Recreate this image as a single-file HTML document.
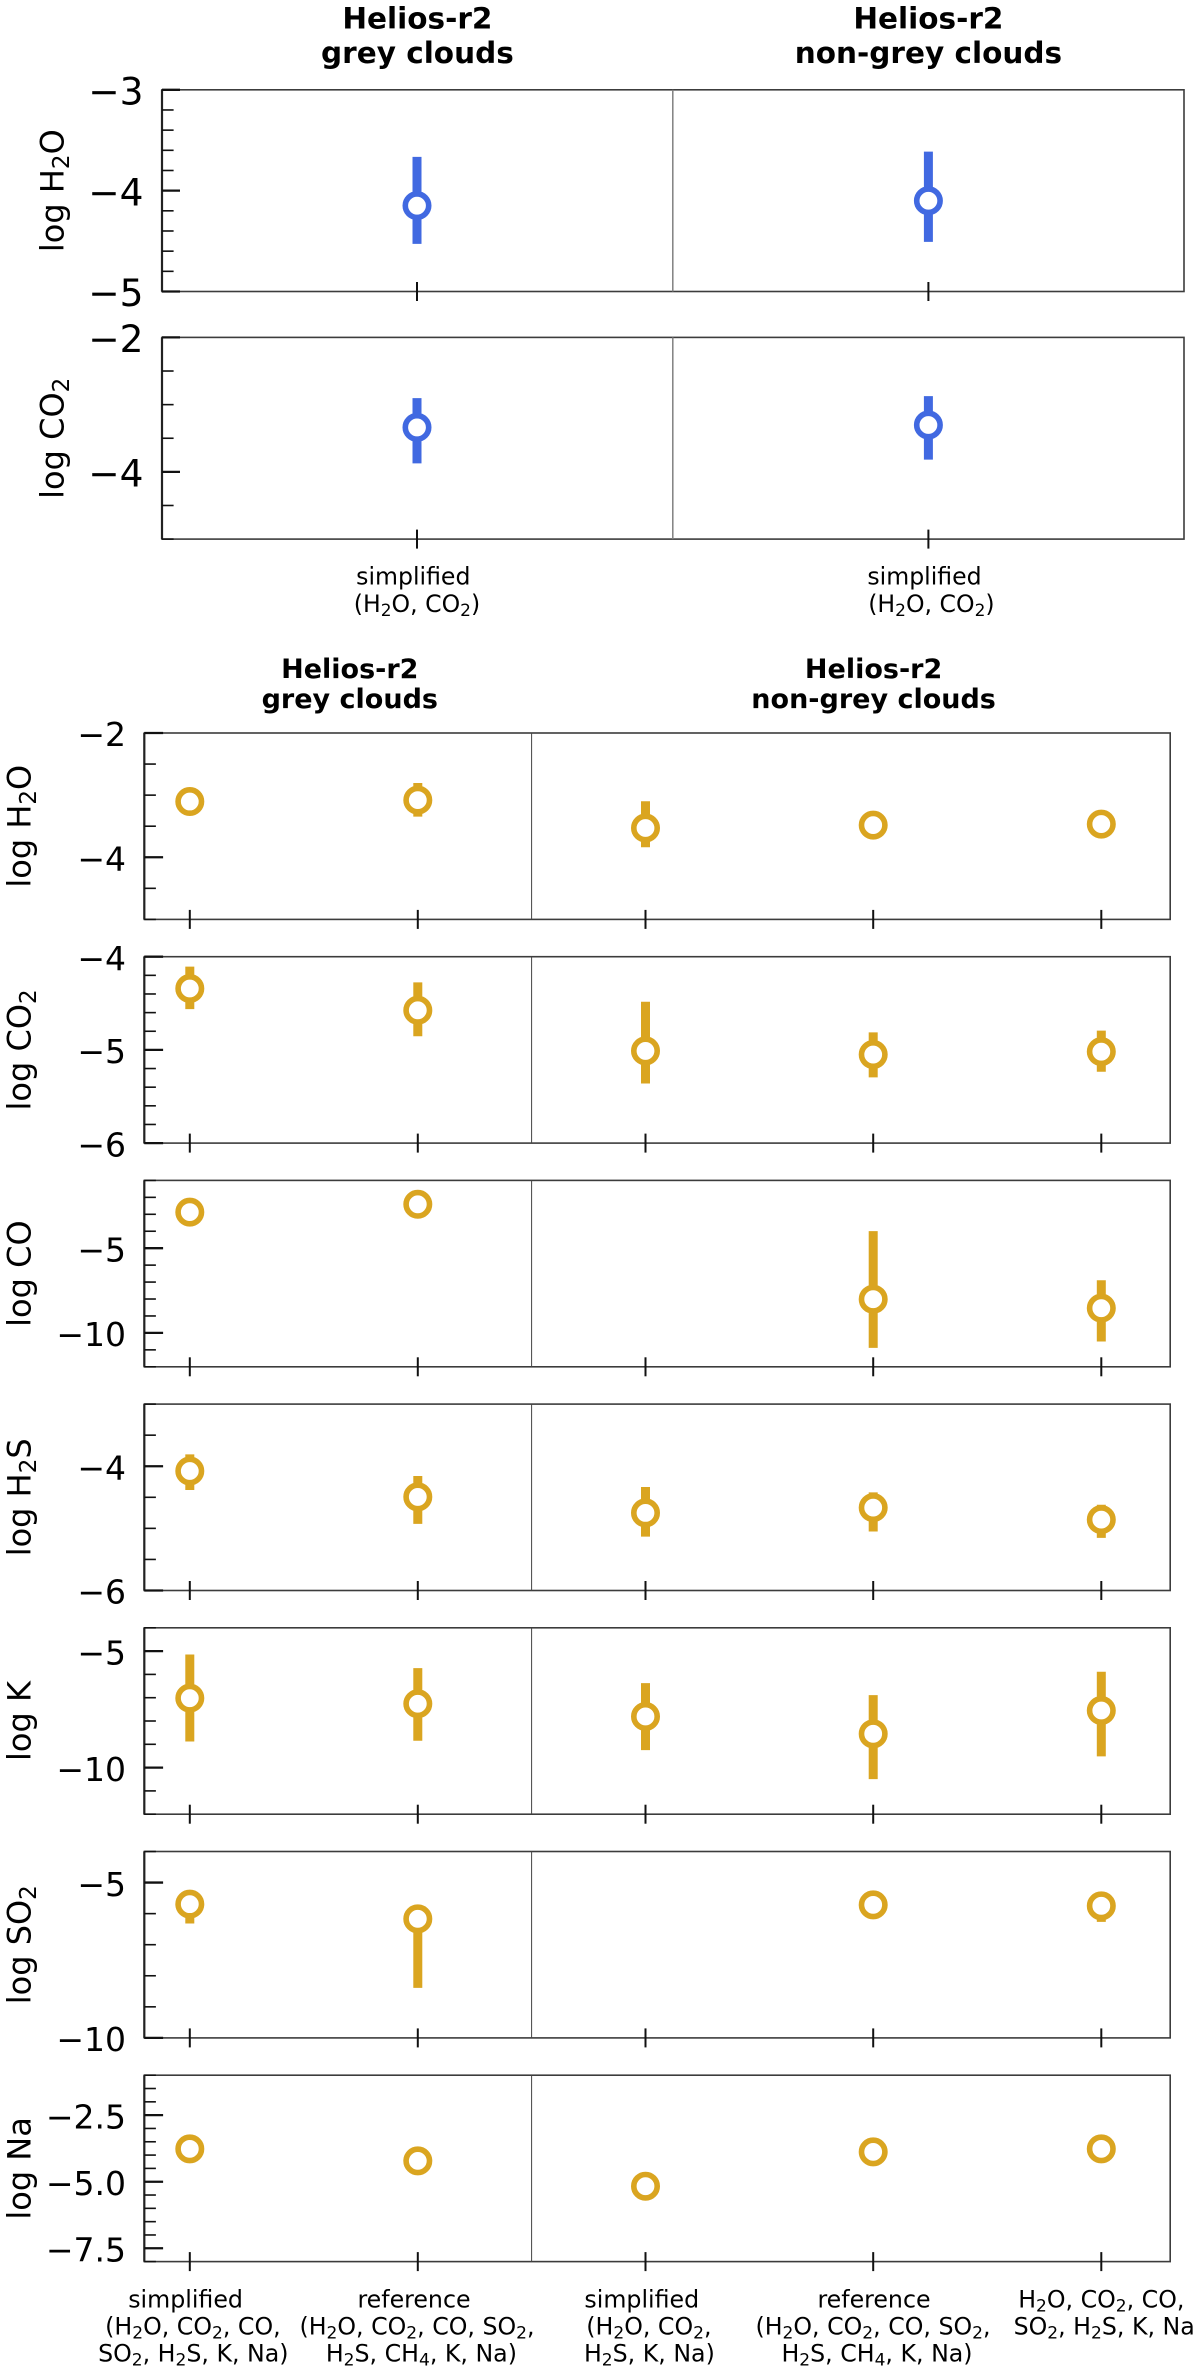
<!DOCTYPE html>
<html lang="en">
<head>
<meta charset="utf-8">
<title>Helios-r2 retrieved abundances</title>
<style>
  html, body { margin: 0; padding: 0; background: #fff; }
  svg { display: block; }
  text { font-family: "DejaVu Sans", "Liberation Sans", sans-serif; fill: #000; }
</style>
</head>
<body>
<svg id="figure" xmlns="http://www.w3.org/2000/svg" width="1200" height="2370" viewBox="0 0 1200 2370"></svg>
<script>
// ---------- data: upper figure (simplified H2O / CO2 retrievals) ----------
const upperTitles = [['Helios-r2', 'grey clouds'], ['Helios-r2', 'non-grey clouds']];
const upperCategories = ['simplified|(H_2O, CO_2)', 'simplified|(H_2O, CO_2)'];

const upperH2oValues = [-4.149, -4.10];
const upperH2oHigh = [-3.665, -3.613];
const upperH2oLow = [-4.528, -4.508];

const upperCo2Values = [-3.339, -3.303];
const upperCo2High = [-2.903, -2.873];
const upperCo2Low = [-3.873, -3.818];

// ---------- data: lower figure (extended retrievals) ----------
const lowerTitles = [['Helios-r2', 'grey clouds'], ['Helios-r2', 'non-grey clouds']];
const lowerCategories = [
  'simplified|(H_2O, CO_2, CO,|SO_2, H_2S, K, Na)',
  'reference|(H_2O, CO_2, CO, SO_2,|H_2S, CH_4, K, Na)',
  'simplified|(H_2O, CO_2,|H_2S, K, Na)',
  'reference|(H_2O, CO_2, CO, SO_2,|H_2S, CH_4, K, Na)',
  'H_2O, CO_2, CO,|SO_2, H_2S, K, Na'
];

const h2oValues = [-3.103, -3.08, -3.529, -3.483, -3.466];
const h2oHigh = [-2.93, -2.805, -3.098, -3.30, -3.28];
const h2oLow = [-3.25, -3.345, -3.839, -3.70, -3.65];

const co2Values = [-4.341, -4.575, -5.011, -5.05, -5.019];
const co2High = [-4.107, -4.276, -4.483, -4.812, -4.793];
const co2Low = [-4.563, -4.854, -5.36, -5.295, -5.234];

const coValues = [-2.87, -2.41, null, -8.01, -8.54];
const coHigh = [-2.4, -1.95, null, -3.99, -6.89];
const coLow = [-3.3, -2.85, null, -10.88, -10.51];

const h2sValues = [-4.077, -4.494, -4.751, -4.666, -4.859];
const h2sHigh = [-3.809, -4.157, -4.334, -4.42, -4.62];
const h2sLow = [-4.382, -4.928, -5.132, -5.051, -5.153];

const kValues = [-7.02, -7.26, -7.805, -8.55, -7.55];
const kHigh = [-5.144, -5.731, -6.375, -6.89, -5.888];
const kLow = [-8.878, -8.85, -9.25, -10.495, -9.52];

const so2Values = [-5.695, -6.167, null, -5.717, -5.749];
const so2High = [-5.3, -5.75, null, -5.35, -5.4];
const so2Low = [-6.318, -8.388, null, -6.1, -6.264];

const naValues = [-3.766, -4.217, -5.168, -3.879, -3.766];
const naHigh = [-3.5, -3.95, -4.9, -3.6, -3.5];
const naLow = [-4.0, -4.45, -5.4, -4.1, -4.0];

// ---------- axis ranges and ticks ----------
const h2oUpperRange = [-5, -3];
const h2oUpperMajor = [-3, -4, -5];
const h2oUpperLabels = ['\u22123', '\u22124', '\u22125'];
const h2oUpperMinorStep = 0.2;

const co2UpperRange = [-5, -2];
const co2UpperMajor = [-2, -4];
const co2UpperLabels = ['\u22122', '\u22124'];
const co2UpperMinorStep = 0.5;

const h2oRange = [-5, -2];
const h2oMajor = [-2, -4];
const h2oLabels = ['\u22122', '\u22124'];
const h2oMinorStep = 0.5;

const co2Range = [-6, -4];
const co2Major = [-4, -5, -6];
const co2Labels = ['\u22124', '\u22125', '\u22126'];
const co2MinorStep = 0.2;

const coRange = [-12, -1];
const coMajor = [-5, -10];
const coLabels = ['\u22125', '\u221210'];
const coMinorStep = 1;

const h2sRange = [-6, -3];
const h2sMajor = [-4, -6];
const h2sLabels = ['\u22124', '\u22126'];
const h2sMinorStep = 0.5;

const kRange = [-12, -4];
const kMajor = [-5, -10];
const kLabels = ['\u22125', '\u221210'];
const kMinorStep = 1;

const so2Range = [-10, -4];
const so2Major = [-5, -10];
const so2Labels = ['\u22125', '\u221210'];
const so2MinorStep = 1;

const naRange = [-8, -1];
const naMajor = [-2.5, -5, -7.5];
const naLabels = ['\u22122.5', '\u22125.0', '\u22127.5'];
const naMinorStep = 0.5;

// ---------- drawing ----------
const SVG_NS = 'http://www.w3.org/2000/svg';
const figure = document.getElementById('figure');
const BLUE = '#4169e1';
const GOLD = '#daa520';

function make(tag, parent, attrs) {
  const el = document.createElementNS(SVG_NS, tag);
  for (const key in attrs) el.setAttribute(key, attrs[key]);
  parent.appendChild(el);
  return el;
}

function richText(parent, str, x, y, size, opts) {
  const o = opts || {};
  const el = make('text', parent, { x: x, y: y, 'font-size': size, 'text-anchor': o.anchor || 'middle' });
  if (o.weight) el.setAttribute('font-weight', o.weight);
  if (o.rotate) el.setAttribute('transform', 'rotate(-90 ' + x + ' ' + y + ')');
  const parts = str.split(/_(\d)/);
  const drop = size * 0.17;
  let pending = 0;
  parts.forEach(function (part, i) {
    if (!part) return;
    const t = make('tspan', el, {});
    t.textContent = part;
    if (i % 2 === 1) {
      t.setAttribute('font-size', size * 0.72);
      t.setAttribute('dy', drop);
      pending = -drop;
    } else if (pending) {
      t.setAttribute('dy', pending);
      pending = 0;
    }
  });
  return el;
}

function drawPanel(cfg) {
  const g = make('g', figure, {});
  
  

  const yScale = function (v) {
    return cfg.top + (cfg.range[1] - v) / (cfg.range[1] - cfg.range[0]) * cfg.height;
  };
  const bottom = cfg.top + cfg.height;

  const frame = make('rect', g, {
    x: cfg.left, y: cfg.top, width: cfg.right - cfg.left, height: cfg.height,
    fill: '#fff', stroke: '#3c3c3c', 'stroke-width': 1.6
  });
  
  

  const spine = make('line', g, {
    x1: cfg.left, x2: cfg.left, y1: cfg.top, y2: bottom,
    stroke: '#222', 'stroke-width': 2.2
  });
  
  

  const divider = make('line', g, {
    x1: cfg.divider, x2: cfg.divider, y1: cfg.top, y2: bottom,
    stroke: cfg.dividerColor, 'stroke-width': cfg.dividerWidth
  });
  
  

  // minor y ticks
  const n = Math.round((cfg.range[1] - cfg.range[0]) / cfg.minorStep);
  for (let i = 0; i <= n; i++) {
    const v = cfg.range[0] + i * cfg.minorStep;
    if (cfg.major.some(function (m) { return Math.abs(m - v) < 1e-6; })) continue;
    const minor = make('line', g, {
      x1: cfg.left, x2: cfg.left + 11.6, y1: yScale(v), y2: yScale(v),
      stroke: '#111', 'stroke-width': 1.6
    });
    
    
  }

  // major y ticks and labels
  cfg.major.forEach(function (v, i) {
    const y = yScale(v);
    const tick = make('line', g, {
      x1: cfg.left, x2: cfg.left + cfg.majorLen, y1: y, y2: y,
      stroke: '#111', 'stroke-width': 2.3
    });
    
    
    const label = richText(g, cfg.tickLabels[i], cfg.labelRight, y + cfg.labelDrop, cfg.tickSize, { anchor: 'end' });
    
    
  });

  const title = richText(g, cfg.yTitle, cfg.titleX, cfg.top + cfg.height / 2, cfg.titleSize, { rotate: true });
  
  

  // x ticks, error bars, markers
  cfg.xs.forEach(function (x, i) {
    const xt = make('line', g, {
      x1: x, x2: x, y1: bottom - 9.5, y2: bottom + 9.5,
      stroke: '#111', 'stroke-width': 2
    });
    
    

    if (cfg.values[i] === null) return;

    const bar = make('line', g, {
      x1: x, x2: x, y1: yScale(cfg.high[i]), y2: yScale(cfg.low[i]),
      stroke: cfg.color, 'stroke-width': 9
    });
    
    

    const point = make('circle', g, {
      cx: x, cy: yScale(cfg.values[i]), r: 11.7,
      fill: '#fff', stroke: cfg.color, 'stroke-width': 5.6
    });
    
    
  });
}

function drawHeading(lines, cx, y1, y2, size) {
  const a = richText(figure, lines[0], cx, y1, size, { weight: 'bold' });
  
  
  const b = richText(figure, lines[1], cx, y2, size, { weight: 'bold' });
  
  
}

function drawCategory(label, centres, baselines, size) {
  label.split('|').forEach(function (line, i) {
    const t = richText(figure, line, centres[i], baselines[i], size);
    
    
  });
}

// ---------- layout of the upper figure ----------
const upperXs = [417, 928.4];
const upperBase = {
  left: 162, right: 1184, divider: 672.8, height: 201.7, xs: upperXs, color: BLUE,
  dividerColor: '#808080', dividerWidth: 1.5, majorLen: 18, labelRight: 143.5,
  labelDrop: 14.6, tickSize: 37.5, titleX: 63.5, titleSize: 32
};

drawPanel(Object.assign({}, upperBase, {
  name: 'panel-upper-log-h2o', top: 89.8, yTitle: 'log H_2O', range: h2oUpperRange,
  major: h2oUpperMajor, tickLabels: h2oUpperLabels, minorStep: h2oUpperMinorStep,
  values: upperH2oValues, high: upperH2oHigh, low: upperH2oLow
}));
drawPanel(Object.assign({}, upperBase, {
  name: 'panel-upper-log-co2', top: 337.4, yTitle: 'log CO_2', range: co2UpperRange,
  major: co2UpperMajor, tickLabels: co2UpperLabels, minorStep: co2UpperMinorStep,
  values: upperCo2Values, high: upperCo2High, low: upperCo2Low
}));

drawHeading(upperTitles[0], 417.4, 28.6, 63, 29.5);
drawHeading(upperTitles[1], 928.4, 28.6, 63, 29.5);
drawCategory(upperCategories[0], [413.3, 417], [584.5, 612], 23.6);
drawCategory(upperCategories[1], [924.5, 931.4], [584.5, 612], 23.6);

// ---------- layout of the lower figure ----------
const lowerXs = [189.8, 417.8, 645.5, 873.2, 1101.3];
const lowerTop = 733;
const lowerPitch = 223.7;
const lowerBase = {
  left: 144.3, right: 1170.2, divider: 531.6, height: 186.4, xs: lowerXs, color: GOLD,
  dividerColor: '#444', dividerWidth: 1, majorLen: 18.8, labelRight: 126,
  labelDrop: 13.2, tickSize: 33, titleX: 30.6, titleSize: 32
};

const lowerPanels = [
  { name: 'panel-lower-log-h2o', yTitle: 'log H_2O', range: h2oRange, major: h2oMajor, tickLabels: h2oLabels, minorStep: h2oMinorStep, values: h2oValues, high: h2oHigh, low: h2oLow },
  { name: 'panel-lower-log-co2', yTitle: 'log CO_2', range: co2Range, major: co2Major, tickLabels: co2Labels, minorStep: co2MinorStep, values: co2Values, high: co2High, low: co2Low },
  { name: 'panel-lower-log-co', yTitle: 'log CO', range: coRange, major: coMajor, tickLabels: coLabels, minorStep: coMinorStep, values: coValues, high: coHigh, low: coLow },
  { name: 'panel-lower-log-h2s', yTitle: 'log H_2S', range: h2sRange, major: h2sMajor, tickLabels: h2sLabels, minorStep: h2sMinorStep, values: h2sValues, high: h2sHigh, low: h2sLow },
  { name: 'panel-lower-log-k', yTitle: 'log K', range: kRange, major: kMajor, tickLabels: kLabels, minorStep: kMinorStep, values: kValues, high: kHigh, low: kLow },
  { name: 'panel-lower-log-so2', yTitle: 'log SO_2', range: so2Range, major: so2Major, tickLabels: so2Labels, minorStep: so2MinorStep, values: so2Values, high: so2High, low: so2Low },
  { name: 'panel-lower-log-na', yTitle: 'log Na', range: naRange, major: naMajor, tickLabels: naLabels, minorStep: naMinorStep, values: naValues, high: naHigh, low: naLow }
];

lowerPanels.forEach(function (panel, i) {
  drawPanel(Object.assign({}, lowerBase, panel, { top: lowerTop + i * lowerPitch }));
});

drawHeading(lowerTitles[0], 349.8, 677.9, 708.2, 27);
drawHeading(lowerTitles[1], 873.6, 677.9, 708.2, 27);

const lowerBaselines = [2307.5, 2334.7, 2361.7];
drawCategory(lowerCategories[0], [185.6, 192.9, 193.3], lowerBaselines, 23.7);
drawCategory(lowerCategories[1], [414, 417, 421.4], lowerBaselines, 23.7);
drawCategory(lowerCategories[2], [641.8, 648.9, 649.4], lowerBaselines, 23.7);
drawCategory(lowerCategories[3], [874, 873, 877], lowerBaselines, 23.7);
drawCategory(lowerCategories[4], [1101.3, 1104.2], lowerBaselines, 23.7);
</script>
</body>
</html>
